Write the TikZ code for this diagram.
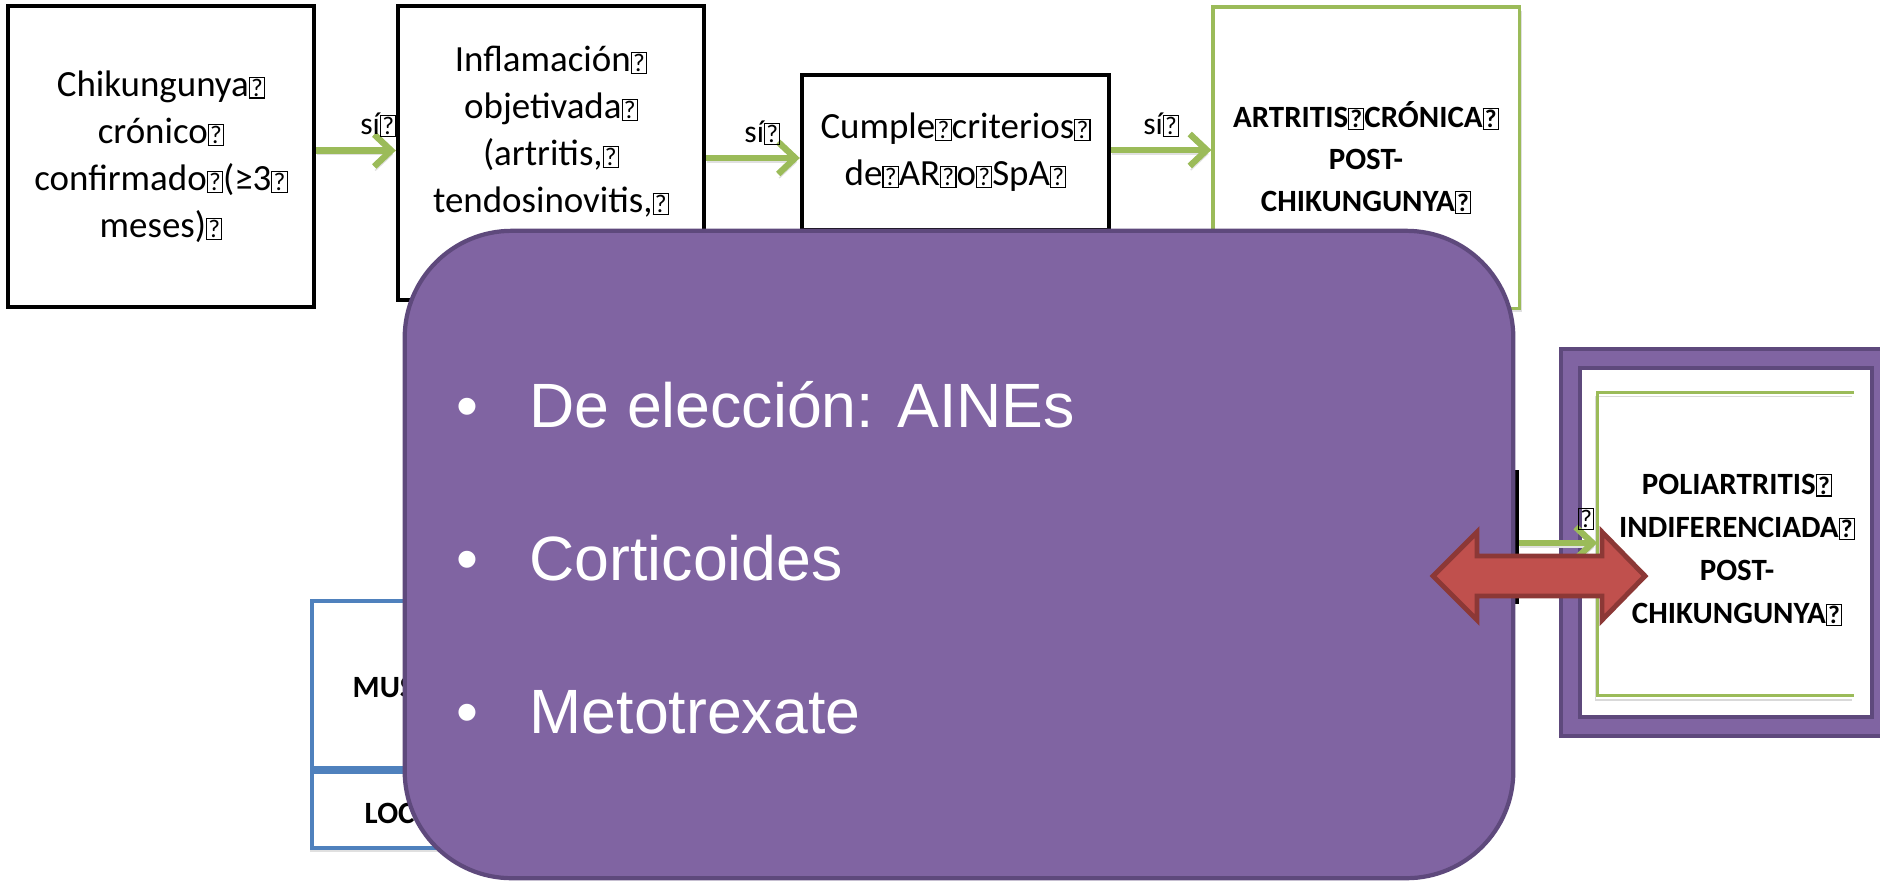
\documentclass[tikz,border=0pt]{standalone}
\usepackage{fontspec}
\setmainfont{Carlito}
\newfontfamily\bulletfont{Liberation Sans}
\usetikzlibrary{arrows.meta,shadows}

\definecolor{okgreen}{RGB}{155,187,89}
\definecolor{sideblue}{RGB}{79,129,189}
\definecolor{treatpurple}{RGB}{128,100,162}
\definecolor{darkpurple}{RGB}{94,73,124}
\definecolor{arrowred}{RGB}{192,80,77}
\definecolor{darkred}{RGB}{140,56,54}

\newcommand{\qbox}{{\setlength{\fboxsep}{0.35pt}\setlength{\fboxrule}{0.3pt}\fbox{\fontsize{7.2}{7.2}\selectfont ?}}}

\begin{document}
\begin{tikzpicture}[x=0.01cm, y=-0.01cm,
  flowbox/.style={draw, line width=1.2pt, fill=white, align=center, inner sep=0pt,
    font=\fontsize{10.5}{13.4}\selectfont},
  greenbox/.style={draw=okgreen, line width=0.9pt, fill=white, align=center, inner sep=0pt,
    font=\bfseries\fontsize{8.8}{11.9}\selectfont,
    drop shadow={shadow xshift=0.03cm, shadow yshift=-0.04cm, fill=black!30, opacity=0.4}},
  bluebox/.style={draw=sideblue, line width=0.9pt, fill=white, inner sep=0pt,
    drop shadow={shadow xshift=-0.02cm, shadow yshift=-0.04cm, fill=black!30, opacity=0.4}},
  boldtext/.style={font=\bfseries\fontsize{8.8}{12.3}\selectfont, inner sep=0pt},
  yesarrow/.style={draw=okgreen, line width=1.8pt, -{Straight Barb[length=0.17cm, width=0.32cm]},
    preaction={draw=black!12, transform canvas={shift={(0.01cm,-0.04cm)}}}},
  yeslabel/.style={font=\fontsize{9}{9}\selectfont, above=0.1cm, inner sep=0pt},
  bulletitem/.style={text=white, font=\bulletfont\fontsize{17.8}{17.8}\selectfont, inner sep=0pt}
]

\useasboundingbox (0,0) rectangle (1880,881);
\clip (0,0) rectangle (1880,881);

\node[flowbox, minimum width=3.06cm, minimum height=3.01cm] (chik) at (161,156.5)
  {Chikungunya\qbox\\crónico\qbox\\confirmado\qbox(≥3\qbox\\meses)\qbox};
\node[flowbox, minimum width=3.06cm, minimum height=2.94cm] (infl) at (551,153)
  {Inflamación\qbox\\objetivada\qbox\\(artritis,\qbox\\tendosinovitis,\qbox\\\mbox{}};
\node[flowbox, minimum width=3.07cm, minimum height=1.55cm] (crit) at (955.5,152.5)
  {Cumple\qbox{}criterios\qbox\\de\qbox{}AR\qbox{}o\qbox{}SpA\qbox};
\node[greenbox, minimum width=3.06cm, minimum height=3.01cm] (chron) at (1366,157.5)
  {ARTRITIS\qbox{}CRÓNICA\qbox\\POST-\\CHIKUNGUNYA\qbox};

\draw[yesarrow] ([yshift=0.06cm]chik.east)
  to node[yeslabel, pos=0.78]{sí\qbox} ([yshift=0.06cm]chik.east -| infl.west);
\draw[yesarrow] ([yshift=-0.05cm]infl.east)
  to node[yeslabel, pos=0.6]{sí\qbox} ([yshift=-0.05cm]infl.east -| crit.west);
\draw[yesarrow] ([yshift=0.025cm]crit.east)
  to node[yeslabel, pos=0.5]{sí\qbox} ([yshift=0.025cm]crit.east -| chron.west);

\node[bluebox, minimum width=3.06cm, minimum height=1.67cm] (musc) at (465,684.5) {};
\node[bluebox, minimum width=3.06cm, minimum height=0.76cm] (loc) at (465,810) {};
\node[boldtext, anchor=west] (muslabel) at (352,687) {MUS};
\node[boldtext, anchor=west] (loclabel) at (364,813) {LOC};

\node[flowbox, minimum width=3.07cm, minimum height=1.3cm] (hid) at (1363.5,537) {};

\node[draw=darkpurple, fill=treatpurple, line width=1.2pt, rounded corners=1.07cm,
  minimum width=11.08cm, minimum height=6.47cm] (treat) at (959,554.5) {};

\node[bulletitem, anchor=base] (dotA) at (467,427) {•};
\node[bulletitem, anchor=base west] (itemA) at (529,427) {De elección: AINEs};
\node[bulletitem, anchor=base] (dotB) at (467,580) {•};
\node[bulletitem, anchor=base west] (itemB) at (529,580) {Corticoides};
\node[bulletitem, anchor=base] (dotC) at (467,733) {•};
\node[bulletitem, anchor=base west] (itemC) at (529,733) {Metotrexate};

\draw[draw=darkpurple, fill=treatpurple, line width=1.1pt] (1561,349) rectangle (1900,736);
\draw[draw=darkpurple, fill=white, line width=1.1pt] (1580,368) rectangle (1872,717);

\node[boldtext, align=center, minimum width=2.78cm, minimum height=3.02cm] (pol) at (1737,550)
  {POLIARTRITIS\qbox\\INDIFERENCIADA\qbox\\POST-\\CHIKUNGUNYA\qbox};
\draw[draw=okgreen, line width=0.9pt,
  preaction={draw=black!15, transform canvas={shift={(-0.02cm,-0.04cm)}}}]
  ([shift={(-0.23cm,0.06cm)}]pol.north east)
  to ([yshift=0.06cm]pol.north west)
  to ([yshift=0.06cm]pol.south west)
  to ([shift={(-0.23cm,0.06cm)}]pol.south east);

\draw[yesarrow] ([yshift=-0.06cm]hid.east)
  to node[yeslabel, pos=0.86]{\qbox} ([yshift=-0.06cm]hid.east -| pol.west);

\coordinate(Ra) at (1433,576);
\coordinate(Rb) at (1477,532);
\coordinate(Rc) at (1477,556);
\coordinate(Rd) at (1602,556);
\coordinate(Re) at (1602,532);
\coordinate(Rf) at (1645,576);
\coordinate(Rg) at (1602,620);
\coordinate(Rh) at (1602,596);
\coordinate(Ri) at (1477,596);
\coordinate(Rj) at (1477,620);

\draw[draw=darkred, fill=arrowred, line width=1.4pt]
  (Ra) to (Rb) to (Rc) to (Rd) to (Re) to (Rf)
  to (Rg) to (Rh) to (Ri) to (Rj) to cycle;

\end{tikzpicture}
\end{document}
